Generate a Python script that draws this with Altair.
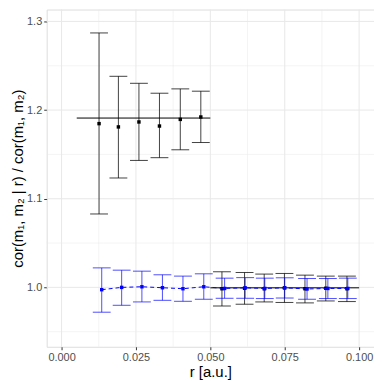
import altair as alt
import pandas as pd

# top (black) group
r_top = [0.0126, 0.0191, 0.0260, 0.0329, 0.0399, 0.0468]
y_top = [1.1847, 1.1810, 1.1866, 1.1820, 1.1895, 1.1922]
lo_top = [1.0828, 1.1234, 1.1432, 1.1463, 1.1552, 1.1634]
hi_top = [1.2870, 1.2381, 1.2302, 1.2190, 1.2239, 1.2213]

# bottom (black) group
r_bot = [0.0539, 0.0615, 0.0681, 0.0749, 0.0818, 0.0888, 0.0959]
y_bot = [0.9985, 0.9990, 0.9985, 0.9995, 0.9985, 0.9990, 0.9985]
lo_bot = [0.9790, 0.9810, 0.9836, 0.9830, 0.9825, 0.9847, 0.9840]
hi_bot = [1.0176, 1.0168, 1.0150, 1.0157, 1.0138, 1.0127, 1.0127]

# blue series
r_blue = [0.0135, 0.0202, 0.0270, 0.0339, 0.0408, 0.0478, 0.0548, 0.0617, 0.0683, 0.0750, 0.0825, 0.0895, 0.0962]
y_blue = [0.9974, 1.0000, 1.0007, 0.9996, 0.9985, 1.0007, 0.9988, 0.9995, 0.9988, 0.9995, 0.9982, 0.9988, 0.9988]
lo_blue = [0.9720, 0.9798, 0.9836, 0.9854, 0.9843, 0.9866, 0.9877, 0.9877, 0.9874, 0.9880, 0.9866, 0.9874, 0.9874]
hi_blue = [1.0220, 1.0194, 1.0183, 1.0142, 1.0127, 1.0153, 1.0104, 1.0110, 1.0104, 1.0108, 1.0100, 1.0100, 1.0104]

# mean lines
mean_x0 = [0.0051, 0.0500]
mean_x1 = [0.0500, 0.1000]
mean_y = [1.1910, 0.9995]

cap_half = 0.003

black = pd.DataFrame({"r": r_top + r_bot, "y": y_top + y_bot,
                      "lo": lo_top + lo_bot, "hi": hi_top + hi_bot})
blue = pd.DataFrame({"r": r_blue, "y": y_blue, "lo": lo_blue, "hi": hi_blue})
means = pd.DataFrame({"x0": mean_x0, "x1": mean_x1, "y": mean_y})

xscale = alt.Scale(domain=[-0.005, 0.105], nice=False, zero=False)
yscale = alt.Scale(domain=[0.933, 1.3134], nice=False, zero=False)

xax = alt.Axis(values=[0, 0.025, 0.05, 0.075, 0.1], format=".3f", title="r [a.u.]",
               grid=False, labelColor="#4d4d4d", labelFontSize=11, tickColor="#333333",
               tickSize=3, domain=False, titleFontSize=15, titleFontWeight="normal",
               titleColor="#000000", labelPadding=2, titlePadding=2)
yax = alt.Axis(values=[1.0, 1.1, 1.2, 1.3], format=".1f",
               title="cor(m₁, m₂ | r) / cor(m₁, m₂)",
               grid=False, labelColor="#4d4d4d", labelFontSize=11, tickColor="#333333",
               tickSize=3, domain=False, titleFontSize=15, titleFontWeight="normal",
               titleColor="#000000", labelPadding=2, titlePadding=1)

# grid
gx = [i * 0.0125 for i in range(9)]
gy = [0.95, 1.0, 1.05, 1.1, 1.15, 1.2, 1.25, 1.3]
gridx = alt.Chart(pd.DataFrame({"g": gx, "major": [i % 2 == 0 for i in range(9)]})).mark_rule().encode(
    x=alt.X("g:Q", scale=xscale, axis=xax),
    strokeWidth=alt.condition("datum.major", alt.value(1.0), alt.value(0.5)),
    color=alt.value("#e8e8e8"))
gridy = alt.Chart(pd.DataFrame({"g": gy, "major": [i % 2 == 1 for i in range(8)]})).mark_rule().encode(
    y=alt.Y("g:Q", scale=yscale, axis=yax),
    strokeWidth=alt.condition("datum.major", alt.value(1.0), alt.value(0.5)),
    color=alt.value("#e8e8e8"))

def errbars(df, color, opacity):
    base = alt.Chart(df)
    v = base.mark_rule(color=color, opacity=opacity, strokeWidth=1).encode(
        x=alt.X("r:Q", scale=xscale), y=alt.Y("lo:Q", scale=yscale), y2="hi:Q")
    caps_hi = base.transform_calculate(a=f"datum.r-{cap_half}", b=f"datum.r+{cap_half}").mark_rule(
        color=color, opacity=opacity, strokeWidth=1).encode(
        x=alt.X("a:Q", scale=xscale), x2="b:Q", y=alt.Y("hi:Q", scale=yscale))
    caps_lo = base.transform_calculate(a=f"datum.r-{cap_half}", b=f"datum.r+{cap_half}").mark_rule(
        color=color, opacity=opacity, strokeWidth=1).encode(
        x=alt.X("a:Q", scale=xscale), x2="b:Q", y=alt.Y("lo:Q", scale=yscale))
    pts = base.mark_square(color=color, opacity=1, size=12).encode(
        x=alt.X("r:Q", scale=xscale), y=alt.Y("y:Q", scale=yscale))
    return v, caps_hi, caps_lo, pts

mlines = alt.Chart(means).mark_rule(color="black", strokeWidth=1).encode(
    x=alt.X("x0:Q", scale=xscale), x2="x1:Q", y=alt.Y("y:Q", scale=yscale))

bline = alt.Chart(blue).mark_line(color="#0000ff", strokeWidth=1, strokeDash=[4, 3]).encode(
    x=alt.X("r:Q", scale=xscale), y=alt.Y("y:Q", scale=yscale))

layers = [gridx, gridy, mlines]
layers += list(errbars(black, "black", 0.75))
layers += [bline]
layers += list(errbars(blue, "#0000ff", 0.7))

chart = alt.layer(*layers).properties(
    width=330, height=340,
    autosize=alt.AutoSizeParams(type="none"),
    padding={"left": 39, "top": 0, "right": 0, "bottom": 40},
).configure_view(stroke="#333333", strokeWidth=1.1).configure(
    font="Liberation Sans", background="white")

chart.save("out.html", embed_options={"renderer": "svg", "actions": False})
